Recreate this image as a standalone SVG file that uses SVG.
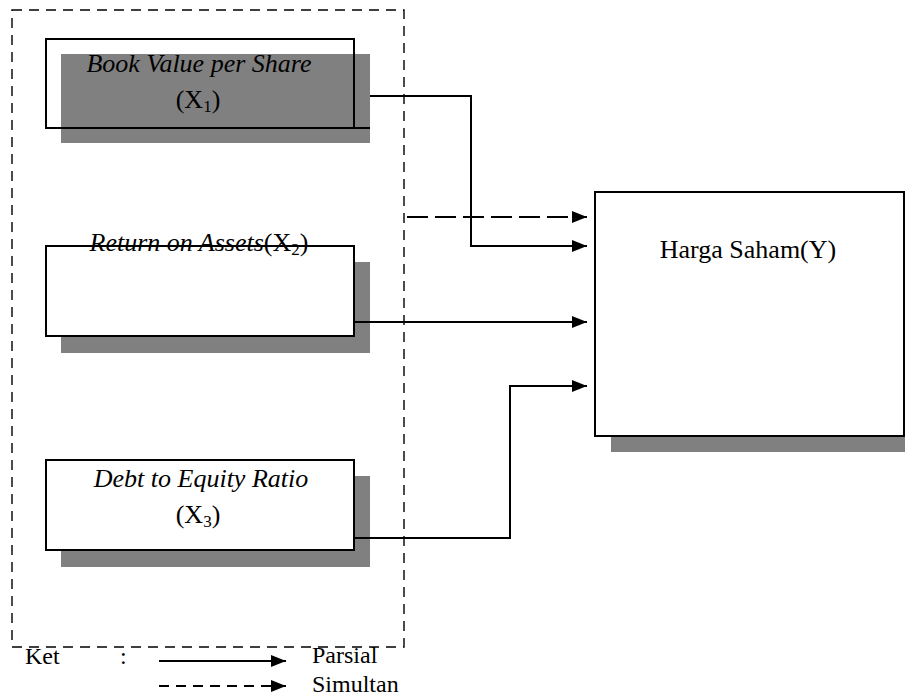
<svg xmlns="http://www.w3.org/2000/svg" width="905" height="699" viewBox="0 0 905 699">
<style>
.t{font-family:"Liberation Serif","Times New Roman",serif;font-size:26px;fill:#000}
.lg{font-size:24px}
.i{font-style:italic}
.box{fill:#fff;stroke:#000;stroke-width:2}
.sh{fill:#808080}
.ln{fill:none;stroke:#000;stroke-width:2}
.dl{fill:none;stroke:#000;stroke-width:2;stroke-dasharray:21 7}
.frame{fill:none;stroke:#000;stroke-width:1.4;stroke-dasharray:10 7}
.sub{font-size:17px}
</style>
<defs>
<marker id="ah" markerUnits="userSpaceOnUse" markerWidth="16" markerHeight="13" refX="15" refY="6" orient="auto">
<path d="M0,0 L15,6 L0,12 z" fill="#000"/>
</marker>
</defs>
<rect width="905" height="699" fill="#fff"/>
<g id="frame">
<rect class="frame" x="12" y="10" width="392" height="637"/>
</g>
<g id="x1">
<rect class="sh" x="61" y="54" width="309" height="89"/>
<rect x="46" y="39" width="308" height="89" fill="none" stroke="#000" stroke-width="2"/>
<line x1="46" y1="128" x2="370" y2="128" stroke="#000" stroke-width="2"/>
<text class="t i" x="199" y="72" text-anchor="middle">Book Value per Share</text>
<text class="t" x="198" y="108" text-anchor="middle">(X<tspan class="sub" dy="4">1</tspan><tspan dy="-4">)</tspan></text>
</g>
<g id="x2">
<rect class="sh" x="61" y="262" width="309" height="91"/>
<rect class="box" x="46" y="246" width="308" height="90"/>
<text class="t" x="199" y="251" text-anchor="middle"><tspan class="i">Return on Assets</tspan>(X<tspan class="sub" dy="4">2</tspan><tspan dy="-4">)</tspan></text>
</g>
<g id="x3">
<rect class="sh" x="61" y="476" width="309" height="91"/>
<rect class="box" x="46" y="460" width="308" height="90"/>
<text class="t i" x="201" y="487" text-anchor="middle">Debt to Equity Ratio</text>
<text class="t" x="198" y="523" text-anchor="middle">(X<tspan class="sub" dy="4">3</tspan><tspan dy="-4">)</tspan></text>
</g>
<g id="y">
<rect class="sh" x="611" y="208" width="300" height="244"/>
<rect class="box" x="595" y="192" width="309" height="244"/>
<text class="t" x="748" y="258" text-anchor="middle">Harga Saham(Y)</text>
</g>
<g id="connectors">
<polyline class="ln" points="370,96 471,96 471,246 587,246" marker-end="url(#ah)"/>
<line class="dl" x1="407" y1="217" x2="587" y2="217" marker-end="url(#ah)"/>
<line class="ln" x1="354" y1="322" x2="587" y2="322" marker-end="url(#ah)"/>
<polyline class="ln" points="354,538 510,538 510,386 587,386" marker-end="url(#ah)"/>
</g>
<g id="legend">
<text class="t lg" x="25" y="664">Ket</text>
<text class="t lg" x="120" y="664">:</text>
<line class="ln" x1="159" y1="661" x2="286" y2="661" marker-end="url(#ah)"/>
<text class="t lg" x="312" y="663">Parsial</text>
<line x1="159" y1="686" x2="286" y2="686" stroke="#000" stroke-width="2" stroke-dasharray="10 7" marker-end="url(#ah)"/>
<text class="t lg" x="312" y="692">Simultan</text>
</g>
</svg>
